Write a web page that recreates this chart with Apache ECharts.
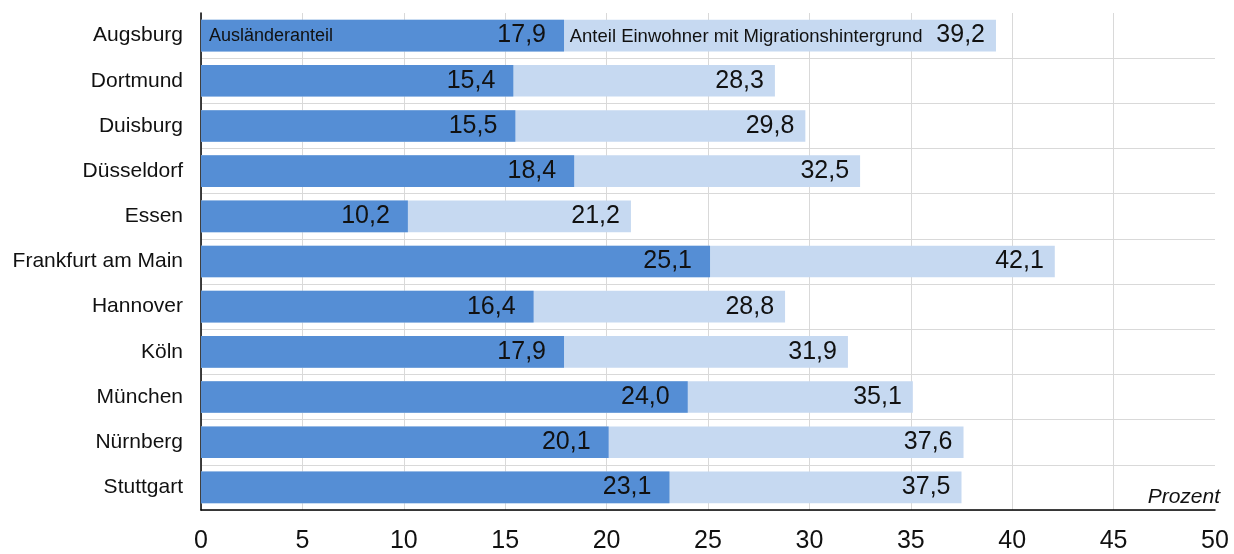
<!DOCTYPE html>
<html>
<head>
<meta charset="utf-8">
<script src="https://cdn.jsdelivr.net/npm/echarts@6/dist/echarts.min.js"></script>
<style>
  html, body { margin: 0; padding: 0; background: #fff; }
  #chart { width: 1234px; height: 554px; }
</style>
</head>
<body>
<div id="chart"></div>
<script>
// Städte und Anteile in Prozent
var cities = ['Augsburg', 'Dortmund', 'Duisburg', 'Düsseldorf', 'Essen', 'Frankfurt am Main',
  'Hannover', 'Köln', 'München', 'Nürnberg', 'Stuttgart'];
var auslaender = [17.9, 15.4, 15.5, 18.4, 10.2, 25.1, 16.4, 17.9, 24.0, 20.1, 23.1];
var migration = [39.2, 28.3, 29.8, 32.5, 21.2, 42.1, 28.8, 31.9, 35.1, 37.6, 37.5];
var xTicks = [0, 5, 10, 15, 20, 25, 30, 35, 40, 45, 50];
var legendDark = 'Ausländeranteil';
var legendLight = 'Anteil Einwohner mit Migrationshintergrund';

var fontFam = '"Liberation Sans", Arial, sans-serif';
var fmt = function (v) { return v.toFixed(1).replace('.', ','); };

// Gitterlinien: letzte senkrechte Linie (50) und oberste waagrechte Linie ausblenden
var gridGray = '#d9d9d9';
var xSplitColors = xTicks.map(function (t, i) { return i === xTicks.length - 1 ? 'rgba(0,0,0,0)' : gridGray; });
var ySplitColors = [];
for (var i = 0; i <= cities.length; i++) {
  ySplitColors.push(i === 0 ? 'rgba(0,0,0,0)' : gridGray);
}

var chart = echarts.init(document.getElementById('chart'));

var option = {
  animation: false,
  textStyle: { fontFamily: fontFam },
  grid: { left: 201, right: 19, top: 13, bottom: 43 },
  xAxis: {
    type: 'value',
    min: xTicks[0],
    max: xTicks[xTicks.length - 1],
    interval: 5,
    axisLine: { show: true, lineStyle: { color: '#000', width: 1.5 } },
    axisTick: { show: false },
    axisLabel: { color: '#111', fontSize: 25, margin: 19, fontFamily: fontFam },
    splitLine: { show: true, lineStyle: { color: xSplitColors, width: 1 } }
  },
  yAxis: {
    type: 'category',
    inverse: true,
    data: cities,
    axisLine: { show: true, lineStyle: { color: '#000', width: 1.5 } },
    axisTick: { show: false },
    axisLabel: { color: '#111', fontSize: 21, margin: 18, fontFamily: fontFam, padding: [3, 0, 0, 0] },
    splitLine: { show: true, lineStyle: { color: ySplitColors, width: 1 } }
  },
  graphic: [{
    type: 'text',
    right: 14,
    top: 487,
    style: { text: 'Prozent', fontSize: 21, fontStyle: 'italic', fill: '#111', fontFamily: fontFam }
  }],
  series: [
    {
      name: legendLight,
      type: 'bar',
      data: migration,
      barCategoryGap: '30%',
      barGap: '-100%',
      itemStyle: { color: '#c6d9f1' },
      label: {
        show: true,
        position: 'insideRight',
        distance: 11,
        color: '#111',
        fontSize: 25,
        formatter: function (p) {
          if (p.dataIndex === 0) {
            return '{s|' + legendLight + '}  {v|' + fmt(p.value) + '}';
          }
          return fmt(p.value);
        },
        rich: {
          s: { fontSize: 18.5, color: '#111', fontFamily: fontFam, padding: [3, 0, 0, 0] },
          v: { fontSize: 25, color: '#111', fontFamily: fontFam }
        }
      },
      z: 1
    },
    {
      name: legendDark,
      type: 'bar',
      data: auslaender,
      barCategoryGap: '30%',
      barGap: '-100%',
      itemStyle: { color: '#558ed5' },
      label: {
        show: true,
        position: 'insideRight',
        distance: 18,
        color: '#111',
        fontSize: 25,
        formatter: function (p) { return fmt(p.value); }
      },
      z: 2
    },
    {
      // unsichtbare Beschriftung "Ausländeranteil" im ersten Balken
      name: 'beschriftung',
      type: 'bar',
      data: auslaender.map(function (v, i) { return i === 0 ? v : null; }),
      barCategoryGap: '30%',
      barGap: '-100%',
      itemStyle: { color: 'rgba(0,0,0,0)' },
      label: {
        show: true,
        position: 'insideLeft',
        distance: 8,
        color: '#111',
        fontSize: 18,
        padding: [4, 0, 0, 0],
        formatter: function () { return legendDark; }
      },
      z: 3
    }
  ]
};

chart.setOption(option);
</script>
</body>
</html>
